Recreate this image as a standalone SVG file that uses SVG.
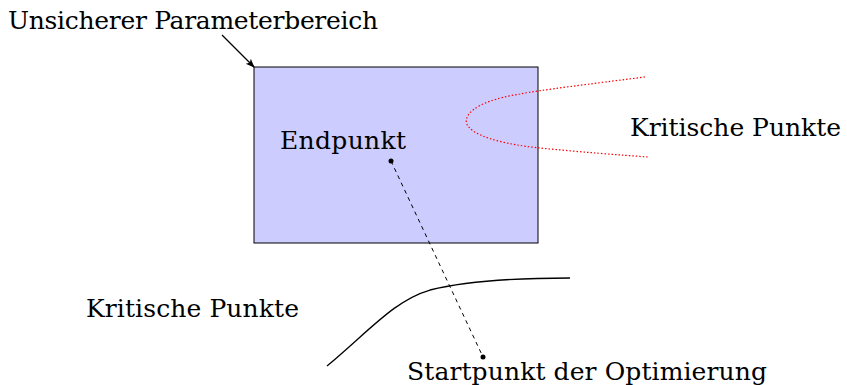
<svg xmlns="http://www.w3.org/2000/svg" width="847" height="385" viewBox="0 0 847 385">
<defs>
<style>
.edge{fill:none;stroke:#000;stroke-width:1.2}
</style>
<marker id="arr" viewBox="0 0 10 10" refX="9" refY="5" markerWidth="9" markerHeight="9" orient="auto" markerUnits="userSpaceOnUse">
<path d="M0,1 L10,5 L0,9 L2.5,5 Z" fill="#000"/>
</marker>
</defs>
<rect width="847" height="385" fill="#fff"/>
<g id="bereich">
<rect x="254" y="67" width="284" height="176" fill="#ccccff" stroke="#000" stroke-width="1"/>
</g>
<g id="kritisch-rot">
<path d="M645,77 C590,84 540,90 520,94 C470,102 462,118 468,126 C478,140 520,146 540,148 C580,152 620,155 648,157" fill="none" stroke="#ff0000" stroke-width="1.2" stroke-dasharray="1.5,2"/>
</g>
<g id="kritisch-schwarz">
<path d="M327,366 C370,330 395,300 430,290 C470,280 520,278 570,278" fill="none" stroke="#000" stroke-width="1.3"/>
</g>
<g id="connectors">
<line class="edge" x1="222" y1="35" x2="254" y2="67" marker-end="url(#arr)"/>
<line x1="391" y1="161" x2="483" y2="357" stroke="#000" stroke-width="1" stroke-dasharray="4,4"/>
<circle cx="391" cy="161" r="2.5" fill="#000"/>
<circle cx="483" cy="357" r="2.5" fill="#000"/>
</g>
<g id="labels" font-family="DejaVu Serif, Liberation Serif, serif" font-size="25" fill="#000">
<text x="8" y="29" textLength="370" lengthAdjust="spacing">Unsicherer Parameterbereich</text>
<text x="280" y="149" textLength="126" lengthAdjust="spacing">Endpunkt</text>
<text x="630" y="136" textLength="211" lengthAdjust="spacing">Kritische Punkte</text>
<text x="86" y="317" textLength="213" lengthAdjust="spacing">Kritische Punkte</text>
<text x="407" y="380" textLength="360" lengthAdjust="spacing">Startpunkt der Optimierung</text>
</g>
</svg>
